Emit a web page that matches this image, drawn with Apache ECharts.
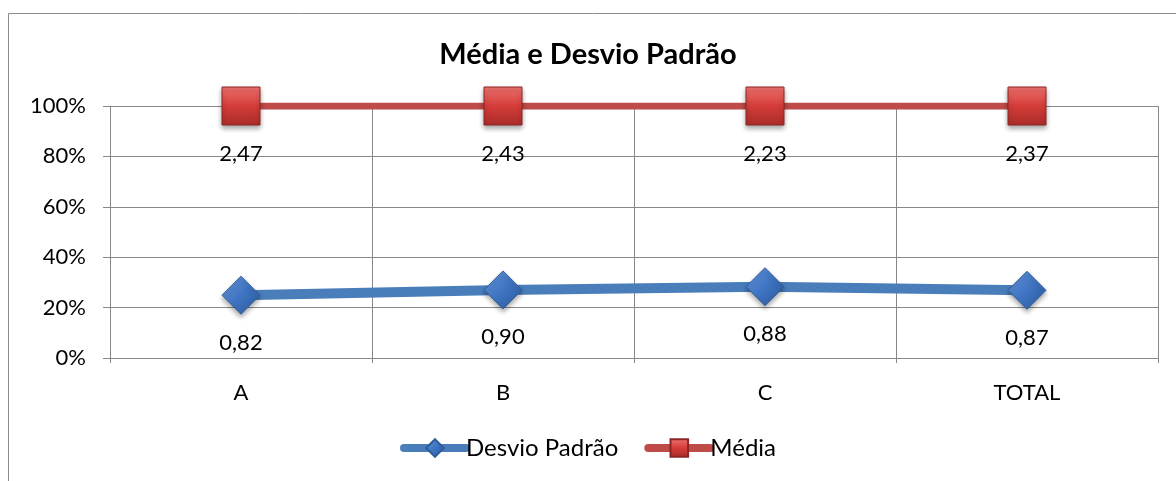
<!DOCTYPE html>
<html>
<head>
<meta charset="utf-8">
<script src="https://cdn.jsdelivr.net/npm/echarts@6/dist/echarts.min.js"></script>
<style>
  html, body { margin: 0; padding: 0; background: #fff; }
  #chart { width: 1176px; height: 481px; }
</style>
</head>
<body>
<div id="chart"></div>
<script>
  // categorias e valores
  const categorias = ['A', 'B', 'C', 'TOTAL']
  const desvioPadrao = [0.82, 0.90, 0.88, 0.87]
  const media = [2.47, 2.43, 2.23, 2.37]
  const yTicks = [0, 20, 40, 60, 80, 100]

  // linha 100% empilhada (como no Excel): cada série vira fração do total
  const totais = categorias.map((c, i) => desvioPadrao[i] + media[i])
  const desvioPct = desvioPadrao.map((v, i) => v / totais[i] * 100)
  const mediaPct = media.map((v, i) => v / totais[i] * 100)

  const fonte = 'Lato, "Open Sans", sans-serif'
  const fmt = v => v.toFixed(2).replace('.', ',')

  const chart = echarts.init(document.getElementById('chart'))

  const option = {
    animation: false,
    graphic: [{
      type: 'rect',
      shape: { x: 8.5, y: 13.5, width: 1200, height: 520 },
      style: { fill: 'none', stroke: '#8c8c8c', lineWidth: 1 }
    }],
    title: {
      text: 'Média e Desvio Padrão',
      left: 'center',
      top: 35,
      textStyle: { fontFamily: fonte, fontSize: 29, fontWeight: 'bold', color: '#000' }
    },
    legend: {
      bottom: 16,
      left: 'center',
      itemWidth: 62,
      itemHeight: 22,
      itemGap: 26,
      textStyle: { fontFamily: fonte, fontSize: 24, color: '#000', padding: [0, 0, 0, -5] },
      data: [
        { name: 'Desvio Padrão', lineStyle: { width: 8, cap: 'round', color: '#4a7ebb' } },
        { name: 'Média', lineStyle: { width: 8, cap: 'round', color: '#be4b48' } }
      ]
    },
    grid: { left: 110, right: 18, top: 106, bottom: 123 },
    xAxis: {
      type: 'category',
      data: categorias,
      boundaryGap: true,
      axisLine: { lineStyle: { color: '#888', width: 1 } },
      axisTick: { show: true, length: 5, lineStyle: { color: '#888' } },
      axisLabel: { fontFamily: fonte, fontSize: 22, color: '#000', margin: 24 },
      splitLine: { show: true, lineStyle: { color: '#888', width: 1 } }
    },
    yAxis: {
      type: 'value',
      min: yTicks[0],
      max: yTicks[yTicks.length - 1],
      interval: 20,
      axisLine: { show: true, lineStyle: { color: '#888', width: 1 } },
      axisTick: { show: true, length: 7, lineStyle: { color: '#888' } },
      axisLabel: { fontFamily: fonte, fontSize: 22, color: '#000', margin: 24, formatter: '{value}%' },
      splitLine: { show: true, lineStyle: { color: '#888', width: 1 } }
    },
    series: [
      {
        name: 'Desvio Padrão',
        type: 'line',
        data: desvioPct,
        stack: 'total',
        symbol: 'diamond',
        symbolSize: [38, 38],
        lineStyle: { color: '#4a7ebb', width: 10 },
        itemStyle: {
          color: new echarts.graphic.LinearGradient(0, 0, 1, 1, [
            { offset: 0, color: '#6b9be0' },
            { offset: 0.5, color: '#3f74c2' },
            { offset: 1, color: '#2c5a9c' }
          ]),
          borderColor: '#2f5d9a',
          borderWidth: 1,
          shadowColor: 'rgba(0,0,0,0.35)',
          shadowBlur: 5,
          shadowOffsetY: 3
        },
        label: {
          show: true,
          position: 'bottom',
          distance: 17,
          fontFamily: fonte,
          fontSize: 22,
          color: '#000',
          formatter: p => fmt(desvioPadrao[p.dataIndex])
        },
        z: 3
      },
      {
        name: 'Média',
        type: 'line',
        data: mediaPct,
        stack: 'total',
        symbol: 'rect',
        symbolSize: [38, 38],
        lineStyle: { color: '#be4b48', width: 7 },
        itemStyle: {
          color: new echarts.graphic.LinearGradient(0, 0, 0, 1, [
            { offset: 0, color: '#f07370' },
            { offset: 0.5, color: '#d43c38' },
            { offset: 1, color: '#a92c2a' }
          ]),
          borderColor: '#8c2624',
          borderWidth: 1,
          shadowColor: 'rgba(0,0,0,0.35)',
          shadowBlur: 5,
          shadowOffsetY: 3
        },
        label: {
          show: true,
          position: 'bottom',
          distance: 17,
          fontFamily: fonte,
          fontSize: 22,
          color: '#000',
          formatter: p => fmt(media[p.dataIndex])
        },
        z: 3
      }
    ]
  }

  chart.setOption(option)
</script>
</body>
</html>
